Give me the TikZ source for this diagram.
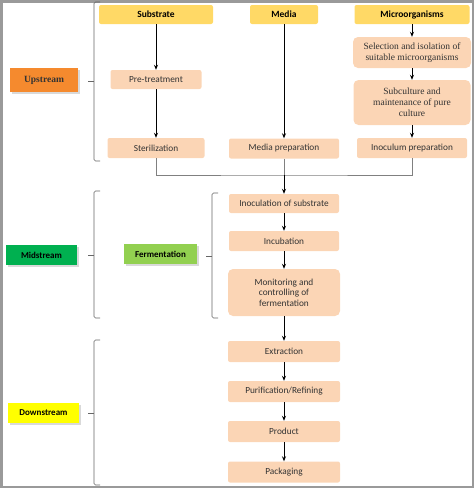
\documentclass[tikz,border=0pt]{standalone}
\usepackage{fontspec}
\setmainfont{Carlito}
\newfontfamily\tnr{Liberation Serif}
\usetikzlibrary{arrows.meta}
\usetikzlibrary{shadows}

\definecolor{peach}{HTML}{FBD5B5}
\definecolor{headyellow}{HTML}{FFD966}
\definecolor{uporange}{HTML}{F58A2E}
\definecolor{midgreen}{HTML}{00B050}
\definecolor{fermgreen}{HTML}{92D050}
\definecolor{downyellow}{HTML}{FFFF00}
\definecolor{frame}{HTML}{9A9A9A}

\begin{document}
\begin{tikzpicture}[x=1pt,y=-1pt,
    box/.style={fill=peach,rounded corners=2,minimum height=19,inner sep=1,text=black!80,
    font=\fontsize{9.3}{10.5}\selectfont},
    serifbox/.style={box,rounded corners=5,align=center,font=\tnr\fontsize{9.5}{11}\selectfont},
    head/.style={fill=headyellow,rounded corners=2,minimum height=19,inner sep=1,font=\fontsize{9.5}{10}\selectfont\bfseries},
    stage/.style={minimum height=20,inner sep=1,font=\fontsize{9}{10}\selectfont\bfseries,
    drop shadow={opacity=0.3,shadow xshift=1.5pt,shadow yshift=-1.5pt}},
    arr/.style={-{Stealth[length=5,width=4]},line width=0.7},
    joint/.style={gray,line width=0.6},
    brace/.style={gray!80!black,line width=0.6,rounded corners=1.5}
    ]
    \def\W{474}  % page width
    \def\H{488}  % page height
    \def\cs{156} % substrate column
    \def\cm{284} % media / main column
    \def\cu{412} % microorganism column
    \def\a{6}    % brace arm length

    \useasboundingbox (0,0) rectangle (\W,\H);
    \draw[frame,line width=2.5] (1.25,1.25) rectangle (\W-1.25,\H-1.25);

    % upstream
    \node[head,minimum width=114] (sub) at (\cs,14.5) {Substrate};
    \node[head,minimum width=68] (med) at (\cm,14.5) {Media};
    \node[head,minimum width=115] (mic) at (\cu,14.5) {Microorganisms};
    \node[box,minimum width=91] (pret) at (\cs,79.5) {Pre-treatment};
    \node[box,minimum width=97,minimum height=20] (ster) at (\cs,148) {Sterilization};
    \node[box,minimum width=110,minimum height=20] (mprep) at (\cm,148.5) {Media preparation};
    \node[serifbox,minimum width=118,minimum height=31] (sel) at (\cu,52.5) {Selection and isolation of\\suitable microorganisms};
    \node[serifbox,minimum width=117,minimum height=45] (subc) at (\cu,102.5) {Subculture and\\maintenance of pure\\culture};
    \node[box,minimum width=110,minimum height=20] (inoc) at (\cu,148) {Inoculum preparation};

    % midstream
    \node[box,minimum width=110] (isub) at (\cm,203.5) {Inoculation of substrate};
    \node[box,minimum width=110,minimum height=20] (incu) at (\cm,241) {Incubation};
    \node[box,minimum width=112,minimum height=47,align=center,rounded corners=5] (mon) at (\cm,292.5) {Monitoring and\\controlling of\\fermentation};

    % downstream
    \foreach \n/\y/\t in {ext/351.5/Extraction,pur/391.5/{Purification/Refining},prod/431.5/Product,pack/472/Packaging} {
        \node[box,minimum width=112,minimum height=21] (\n) at (\cm,\y) {\t};
    }

    \foreach \p/\q in {sub/pret,pret/ster,med/mprep,mic/sel,sel/subc,subc/inoc,isub/incu,incu/mon,mon/ext,ext/pur,pur/prod,prod/pack} {
        \draw[arr] (\p) -- (\q);
    }
    \coordinate (join) at (\cm,175);
    \draw[joint] (ster.south) |- (join) -| (inoc.south);
    \draw[joint] (mprep.south) -- (join);
    \draw[arr] (join) -- (isub);

    % stages
    \node[stage,fill=uporange,minimum width=68,minimum height=24,text=black!80,
    font=\tnr\fontsize{9.5}{10}\selectfont\bfseries] (up) at (44,80) {Upstream};
    \node[stage,fill=midgreen,minimum width=71] (mid) at (41.5,255) {Midstream};
    \node[stage,fill=fermgreen,minimum width=73] (ferm) at (160.5,254) {Fermentation};
    \node[stage,fill=downyellow,minimum width=71] (down) at (43.5,413) {Downstream};

    \foreach \x/\t/\m/\b in {94/2/81/161,94/191/255/318,212/193/256/318,94/340/413/485} {
        \draw[brace] (\x+\a,\t) -- (\x,\t) -- (\x,\b) -- (\x+\a,\b);
        \draw[brace] (\x-\a,\m) -- (\x,\m);
    }
\end{tikzpicture}
\end{document}
